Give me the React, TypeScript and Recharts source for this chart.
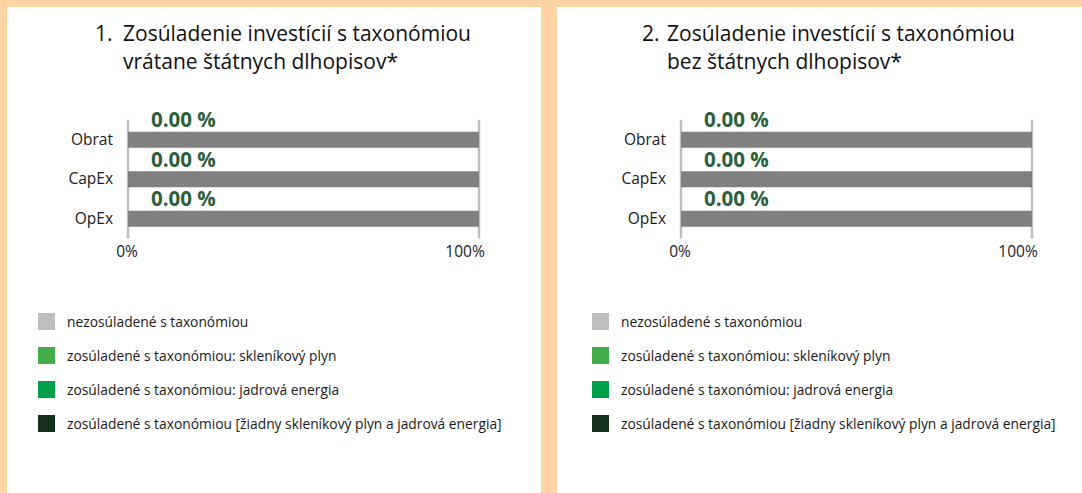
import React from 'react';
import { BarChart, Bar, XAxis, YAxis, CartesianGrid, LabelList } from 'recharts';

// ---------- data ----------
const categories = ['Obrat', 'CapEx', 'OpEx'];

// Chart 1: including sovereign bonds
const gas1 = [0, 0, 0];
const nuclear1 = [0, 0, 0];
const otherAligned1 = [0, 0, 0];
const notAligned1 = [100, 100, 100];

// Chart 2: excluding sovereign bonds
const gas2 = [0, 0, 0];
const nuclear2 = [0, 0, 0];
const otherAligned2 = [0, 0, 0];
const notAligned2 = [100, 100, 100];

const xTicks = [0, 100];
const xTickLabels = ['0%', '100%'];

const title1 = ['1.', 'Zosúladenie investícií s taxonómiou', 'vrátane štátnych dlhopisov*'];
const title2 = ['2.', 'Zosúladenie investícií s taxonómiou', 'bez štátnych dlhopisov*'];

const legendNames = [
  'nezosúladené s taxonómiou',
  'zosúladené s taxonómiou: skleníkový plyn',
  'zosúladené s taxonómiou: jadrová energia',
  'zosúladené s taxonómiou [žiadny skleníkový plyn a jadrová energia]',
];

// ---------- styles ----------
const FONT = '"Open Sans", Lato, sans-serif';
const BG = '#FDD5A4';
const LEGEND_COLORS = ['#BFBFBF', '#43AD4B', '#00A04B', '#12301A'];
const BAR_GRAY = '#808080';
const LABEL_GREEN = '#2C5F3C';

type PanelCfg = {
  left: number;
  width: number;
  title: string[];
  numX: number;
  textX: number;
  gas: number[];
  nuclear: number[];
  other: number[];
  notAligned: number[];
  axisX: number;
  legendX: number;
};

function buildData(p: PanelCfg) {
  return categories.map((name, i) => ({
    name,
    gas: p.gas[i],
    nuclear: p.nuclear[i],
    other: p.other[i],
    notAligned: p.notAligned[i],
    alignedTotal: p.gas[i] + p.nuclear[i] + p.other[i],
  }));
}

function Panel({ p }: { p: PanelCfg }) {
  const data = buildData(p);
  const plotRight = p.axisX + 351;
  const chartH = 486;

  const XTick = (props: any) => {
    const { x, y, payload } = props;
    const idx = xTicks.indexOf(payload.value);
    const dx = payload.value === 100 ? -14 : -1;
    return (
      <text x={x + dx} y={y} dy="0.71em" textAnchor="middle" fontSize={15.5} fill="#1a1a1a" fontFamily={FONT}>
        {xTickLabels[idx]}
      </text>
    );
  };

  const YTick = (props: any) => {
    const { x, y, payload } = props;
    return (
      <text x={x} y={y} dy="0.35em" textAnchor="end" fontSize={15.5} fill="#1a1a1a" fontFamily={FONT}>
        {payload.value}
      </text>
    );
  };

  const renderLabel = (props: any) => {
    const { y, index } = props;
    const v = data[index].alignedTotal;
    return (
      <text x={p.axisX + 23} y={y - 4.5} fontSize={20.5} fontWeight={700} fill={LABEL_GREEN} fontFamily={FONT}>
        {v.toFixed(2) + ' %'}
      </text>
    );
  };

  return (
    <div
      style={{
        position: 'absolute',
        left: p.left,
        top: 7,
        width: p.width,
        height: chartH,
        background: '#ffffff',
        fontFamily: FONT,
      }}
    >
      <div style={{ position: 'absolute', left: p.numX, top: 11.5, fontSize: 21, lineHeight: '28px', color: '#111' }}>
        {p.title[0]}
      </div>
      <div style={{ position: 'absolute', left: p.textX, top: 11.5, fontSize: 21, lineHeight: '28px', color: '#111', whiteSpace: 'nowrap' }}>
        <div>{p.title[1]}</div>
        <div>{p.title[2]}</div>
      </div>

      <div style={{ position: 'absolute', left: 0, top: 0 }}>
        <BarChart
          width={p.width}
          height={chartH}
          data={data}
          layout="vertical"
          barSize={16}
          margin={{ top: 112.75, right: p.width - plotRight, left: 0, bottom: chartH - 231.25 - 30 }}
        >
          <CartesianGrid horizontal={false} vertical stroke="#BFBFBF" strokeWidth={2.5} />
          <XAxis
            type="number"
            domain={[0, 100]}
            ticks={xTicks}
            axisLine={false}
            tickLine={false}
            tickSize={6}
            tickMargin={2}
            height={30}
            tick={<XTick />}
            interval={0}
          />
          <YAxis
            type="category"
            dataKey="name"
            width={p.axisX}
            axisLine={false}
            tickLine={false}
            tickSize={0}
            tickMargin={15}
            tick={<YTick />}
          />
          <Bar dataKey="gas" stackId="a" fill={LEGEND_COLORS[1]} isAnimationActive={false} />
          <Bar dataKey="nuclear" stackId="a" fill={LEGEND_COLORS[2]} isAnimationActive={false} />
          <Bar dataKey="other" stackId="a" fill={LEGEND_COLORS[3]} isAnimationActive={false} />
          <Bar dataKey="notAligned" stackId="a" fill={BAR_GRAY} isAnimationActive={false}>
            <LabelList dataKey="alignedTotal" content={renderLabel} />
          </Bar>
        </BarChart>
      </div>

      <div style={{ position: 'absolute', left: p.legendX, top: 297.5 }}>
        {legendNames.map((n, i) => (
          <div key={n} style={{ display: 'flex', alignItems: 'center', height: 34 }}>
            <div style={{ width: 17, height: 17, background: LEGEND_COLORS[i], marginRight: 12, flexShrink: 0 }} />
            <span style={{ fontSize: 13.8, color: '#1a1a1a', whiteSpace: 'nowrap' }}>{n}</span>
          </div>
        ))}
      </div>
    </div>
  );
}

const panel1: PanelCfg = {
  left: 7,
  width: 534,
  title: title1,
  numX: 88,
  textX: 116,
  gas: gas1,
  nuclear: nuclear1,
  other: otherAligned1,
  notAligned: notAligned1,
  axisX: 121,
  legendX: 31,
};

const panel2: PanelCfg = {
  left: 557,
  width: 525,
  title: title2,
  numX: 85,
  textX: 110,
  gas: gas2,
  nuclear: nuclear2,
  other: otherAligned2,
  notAligned: notAligned2,
  axisX: 124,
  legendX: 35,
};

export default function App() {
  return (
    <div style={{ position: 'absolute', left: 0, top: 0, width: 1082, height: 493, background: BG, overflow: 'hidden' }}>
      <Panel p={panel1} />
      <Panel p={panel2} />
    </div>
  );
}
